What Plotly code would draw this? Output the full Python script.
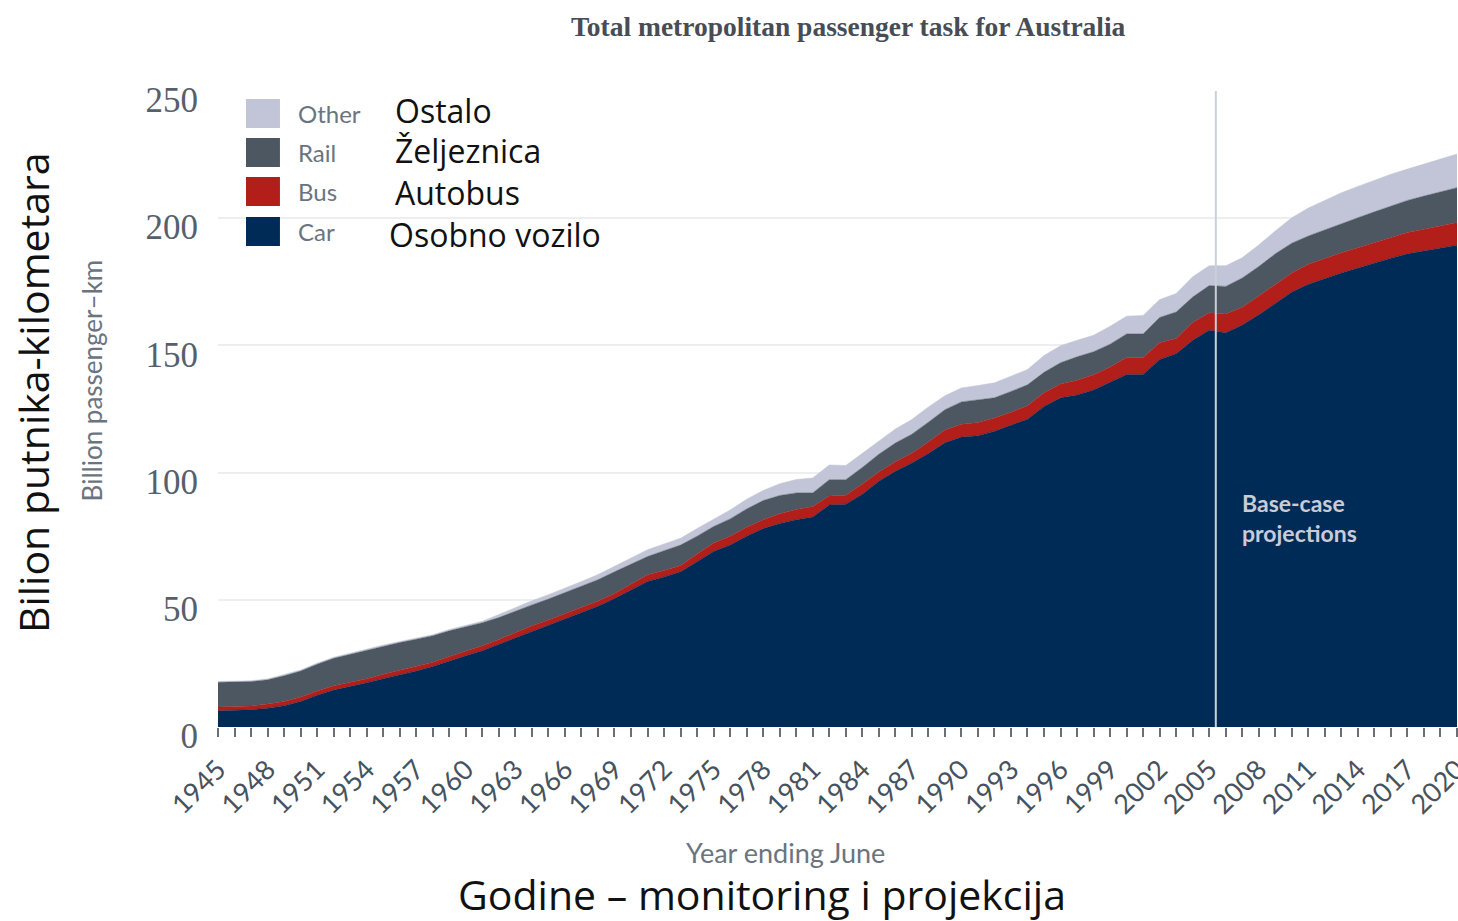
import plotly.graph_objects as go

years = list(range(1945, 2021))

car = [6.4, 6.6, 6.8, 7.4, 8.4, 10.0, 12.5, 14.5, 15.8, 17.4,
       19.0, 20.5, 22.0, 23.8, 26.0, 28.0, 30.0, 32.5, 35.2, 37.8,
       40.2, 42.5, 45.0, 47.5, 50.5, 53.8, 57.2, 59.0, 61.0, 65.0,
       69.0, 71.5, 75.0, 78.0, 80.0, 81.5, 82.5, 87.3, 87.6, 91.5,
       96.6, 100.5, 103.8, 107.5, 111.7, 114.0, 114.5, 116.3, 118.5, 121.0,
       126.0, 129.4, 130.5, 132.5, 135.5, 138.6, 138.6, 144.5, 146.7, 152.0,
       156.0, 155.0, 158.0, 162.0, 166.5, 171.0, 174.0, 176.3, 178.5, 180.4,
       182.5, 184.3, 186.0, 187.2, 188.3, 189.4]
bus = [1.5, 1.5, 1.5, 1.6, 1.6, 1.8, 1.7, 1.7, 1.7, 1.6,
       1.7, 1.7, 1.7, 1.7, 1.7, 1.7, 1.9, 1.9, 2.0, 2.0,
       1.9, 2.0, 2.0, 2.0, 2.0, 2.2, 2.6, 2.5, 2.5, 3.0,
       3.3, 3.5, 3.5, 3.5, 3.8, 4.0, 4.2, 3.5, 3.5, 4.0,
       3.6, 3.8, 3.8, 4.5, 5.0, 5.0, 5.2, 5.2, 5.2, 5.3,
       5.4, 5.4, 5.8, 6.0, 6.0, 6.6, 6.6, 6.5, 6.0, 7.0,
       6.8, 7.3, 7.0, 7.4, 7.5, 7.5, 7.9, 7.9, 7.9, 8.0,
       8.0, 8.2, 8.4, 8.5, 8.7, 8.9]
rail = [9.7, 9.7, 9.6, 9.6, 10.1, 10.2, 10.5, 10.8, 11.1, 11.3,
        11.1, 11.0, 10.8, 10.4, 10.1, 9.7, 9.1, 8.6, 8.4, 8.2,
        8.2, 8.3, 8.3, 8.4, 8.5, 8.0, 7.2, 7.8, 8.0, 7.0,
        6.5, 6.8, 7.2, 7.5, 7.2, 6.5, 5.3, 6.4, 6.1, 6.5,
        7.0, 7.3, 7.5, 7.8, 8.0, 8.8, 8.8, 7.9, 8.2, 8.2,
        8.0, 8.4, 9.2, 9.0, 9.0, 9.3, 9.3, 10.0, 10.4, 10.0,
        10.7, 10.9, 11.5, 11.6, 12.0, 11.7, 11.1, 11.3, 11.6, 11.8,
        12.0, 12.3, 12.6, 13.0, 13.3, 13.7]
other = [0.3, 0.3, 0.3, 0.3, 0.4, 0.4, 0.4, 0.4, 0.4, 0.4,
         0.4, 0.4, 0.4, 0.4, 0.5, 0.5, 0.6, 1.2, 1.4, 1.6,
         1.7, 1.7, 1.9, 2.0, 2.0, 2.4, 2.7, 2.7, 2.7, 3.0,
         3.0, 3.5, 3.8, 4.0, 4.6, 5.3, 5.9, 5.8, 5.6, 5.5,
         5.2, 5.5, 5.8, 6.0, 5.5, 5.5, 5.7, 5.9, 6.0, 6.0,
         6.6, 6.7, 6.5, 6.5, 7.0, 7.0, 7.3, 7.0, 7.3, 8.0,
         7.8, 8.1, 8.0, 8.5, 9.0, 10.0, 11.0, 11.5, 12.0, 12.3,
         12.5, 12.5, 12.3, 12.6, 13.0, 13.2]

series_names = ["Car", "Bus", "Rail", "Other"]
series_hr = ["Osobno vozilo", "Autobus", "Željeznica", "Ostalo"]
series_values = [car, bus, rail, other]
colors = ["#012b57", "#b21f1a", "#4d5761", "#c1c5d7"]

tick_years = list(range(1945, 2021, 3))
y_ticks = [0, 50, 100, 150, 200, 250]
projection_start = 2005.4

fig = go.Figure()
for name, vals, col in zip(series_names, series_values, colors):
    fig.add_trace(go.Scatter(
        x=years, y=vals, name=name, mode="lines",
        stackgroup="one", line=dict(width=0.5, color=col),
        fillcolor=col, showlegend=False))

# vertical projection line
fig.add_shape(type="line", x0=projection_start, x1=projection_start,
              y0=0, y1=250, xref="x", yref="y",
              line=dict(color="#c9d0d8", width=2), layer="above")

fig.add_annotation(x=projection_start + 1.45, y=82, xref="x", yref="y",
                   text="<b>Base-case<br>projections</b>", showarrow=False,
                   xanchor="left", yanchor="middle", align="left",
                   font=dict(family="Lato", size=23, color="#c8ccd8"))

# legend (drawn manually)
leg_y = [0.9646, 0.9033, 0.842, 0.779]
hr_y = [0.970, 0.907, 0.841, 0.775]
leg_order = [3, 2, 1, 0]
for ly, idx in zip(leg_y, leg_order):
    fig.add_shape(type="rect", xref="paper", yref="paper",
                  x0=0.0226, x1=0.05, y0=ly - 0.0228, y1=ly + 0.0228,
                  fillcolor=colors[idx], line=dict(width=0))
    fig.add_annotation(xref="paper", yref="paper", x=0.063, y=ly,
                       text=series_names[idx], showarrow=False,
                       xanchor="left", yanchor="middle",
                       font=dict(family="Lato", size=24, color="#6a7480"))
hr_x = [0.141, 0.141, 0.141, 0.136]
for hy, idx, hx in zip(hr_y, leg_order, hr_x):
    fig.add_annotation(xref="paper", yref="paper", x=hx, y=hy,
                       text=series_hr[idx], showarrow=False,
                       xanchor="left", yanchor="middle",
                       font=dict(family="Open Sans", size=32, color="#111111"))

# titles
fig.add_annotation(xref="paper", yref="paper", x=0.509, y=1.0, yshift=65,
                   text="<b>Total metropolitan passenger task for Australia</b>",
                   showarrow=False, xanchor="center", yanchor="middle",
                   font=dict(family="Liberation Serif", size=27.5, color="#474c55"))
fig.add_annotation(xref="paper", yref="paper", x=0, xshift=92 - 218, y=0.545,
                   text="Billion passenger–km", textangle=-90, showarrow=False,
                   xanchor="center", yanchor="middle",
                   font=dict(family="Lato", size=26, color="#6a7480"))
fig.add_annotation(xref="paper", yref="paper", x=0, xshift=33 - 218, y=0.525,
                   text="Bilion putnika-kilometara", textangle=-90, showarrow=False,
                   xanchor="center", yanchor="middle",
                   font=dict(family="Open Sans", size=41, color="#111111"))
fig.add_annotation(xref="paper", yref="paper", x=0.458, y=0, yshift=-(852 - 727),
                   text="Year ending June", showarrow=False,
                   xanchor="center", yanchor="middle",
                   font=dict(family="Lato", size=27, color="#6a7480"))
fig.add_annotation(xref="paper", yref="paper", x=0.439, y=0, yshift=-(894 - 727),
                   text="Godine – monitoring i projekcija", showarrow=False,
                   xanchor="center", yanchor="middle",
                   font=dict(family="Open Sans", size=41, color="#111111"))

fig.update_layout(
    width=1458, height=921,
    margin=dict(l=218, r=1, t=91, b=194, autoexpand=False),
    plot_bgcolor="white", paper_bgcolor="white",
    showlegend=False,
    xaxis=dict(range=[1945, 2020], tickmode="array", tickvals=tick_years,
               ticktext=[str(y) for y in tick_years], tickangle=-45,
               ticks="outside", ticklen=9, tickwidth=2, tickcolor="#6a6f75",
               minor=dict(dtick=1, tick0=1945, ticks="outside", ticklen=9,
                          tickwidth=2, tickcolor="#6a6f75", showgrid=False),
               showgrid=False, zeroline=False, showline=False,
               automargin=False, ticklabeloverflow="allow",
               ticklabelstandoff=6,
               tickfont=dict(family="Lato", size=27, color="#46525e")),
    yaxis=dict(range=[0, 250], tickvals=y_ticks, showgrid=True,
               gridcolor="#eceef0", gridwidth=2, zeroline=False,
               showline=False, ticks="", ticklabelstandoff=19,
               ticklabelshift=9, automargin=False,
               tickfont=dict(family="Liberation Serif", size=35, color="#55606b")),
)

fig.write_html(
    "out.html",
    config={"displayModeBar": False},
    post_script="document.body.style.margin='0';document.body.style.overflow='hidden';",
)
